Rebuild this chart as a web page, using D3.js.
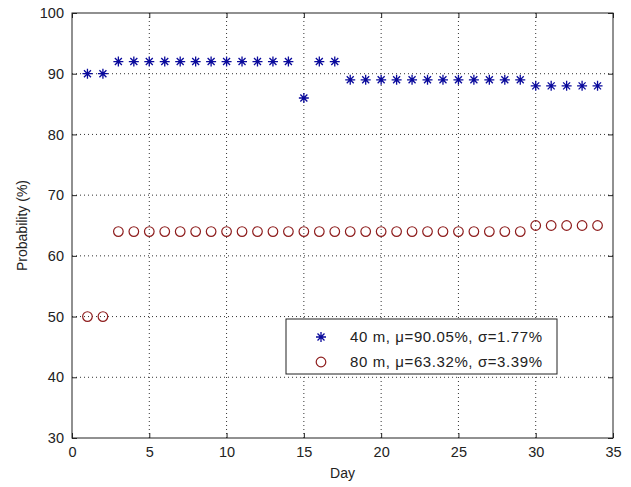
<!DOCTYPE html>
<html>
<head>
<meta charset="utf-8">
<script src="https://cdn.jsdelivr.net/npm/d3@7"></script>
<style>
  body { margin: 0; background: #fff; }
  svg text { font-family: "Liberation Sans", Arial, sans-serif; fill: #222; }
</style>
</head>
<body>
<div id="chart"></div>
<script>
const days = d3.range(1, 35)
const prob40 = [90, 90, 92, 92, 92, 92, 92, 92, 92, 92, 92, 92, 92, 92, 86, 92, 92,
    89, 89, 89, 89, 89, 89, 89, 89, 89, 89, 89, 89, 88, 88, 88, 88, 88]
const prob80 = [50, 50, 64, 64, 64, 64, 64, 64, 64, 64, 64, 64, 64, 64, 64, 64, 64,
    64, 64, 64, 64, 64, 64, 64, 64, 64, 64, 64, 64, 65, 65, 65, 65, 65]
const xTicks = [0, 5, 10, 15, 20, 25, 30, 35]
const yTicks = [30, 40, 50, 60, 70, 80, 90, 100]
const legendLabels = ["40 m, \u03bc=90.05%, \u03c3=1.77%", "80 m, \u03bc=63.32%, \u03c3=3.39%"]

const width = 631, height = 487
const margins = {top: 13, right: 18, bottom: 49, left: 72}

const svg = d3.select("#chart")
    .append("svg")
    .attr("width", width)
    .attr("height", height)

const xScale = d3.scaleLinear()
    .domain([0, 35])
    .range([margins.left, width - margins.right])

const yScale = d3.scaleLinear()
    .domain([30, 100])
    .range([height - margins.bottom, margins.top])

const x0 = margins.left, x1 = width - margins.right
const y0 = height - margins.bottom, y1 = margins.top

// dotted grid
svg.append("g")
    .selectAll("line")
    .data(xTicks.slice(1, -1))
    .join("line")
    .attr("x1", d => xScale(d)).attr("x2", d => xScale(d))
    .attr("y1", y0).attr("y2", y1)
    .attr("stroke", "#333").attr("stroke-width", 1)
    .attr("stroke-dasharray", "1,3")

svg.append("g")
    .selectAll("line")
    .data(yTicks.slice(1, -1))
    .join("line")
    .attr("y1", d => yScale(d)).attr("y2", d => yScale(d))
    .attr("x1", x0).attr("x2", x1)
    .attr("stroke", "#333").attr("stroke-width", 1)
    .attr("stroke-dasharray", "1,3")

// axes, ticks pointing inwards
const xAxis = d3.axisBottom(xScale).tickValues(xTicks).tickSizeInner(-5).tickSizeOuter(0).tickPadding(9)
const yAxis = d3.axisLeft(yScale).tickValues(yTicks).tickSizeInner(-5).tickSizeOuter(0).tickPadding(8)

svg.append("g")
    .attr("transform", `translate(0,${y0})`)
    .call(xAxis)
    .call(g => g.select(".domain").remove())
    .call(g => g.selectAll("text").attr("font-size", 14.5).attr("fill", "#222"))
    .call(g => g.selectAll("line").attr("stroke", "#222"))

svg.append("g")
    .attr("transform", `translate(${x0},0)`)
    .call(yAxis)
    .call(g => g.select(".domain").remove())
    .call(g => g.selectAll("text").attr("font-size", 14.5).attr("fill", "#222").attr("dy", "0.32em"))
    .call(g => g.selectAll("line").attr("stroke", "#222"))

// top and right ticks
svg.append("g")
    .attr("transform", `translate(0,${y1})`)
    .call(d3.axisTop(xScale).tickValues(xTicks).tickSizeInner(-5).tickSizeOuter(0).tickFormat(""))
    .call(g => g.select(".domain").remove())
    .call(g => g.selectAll("line").attr("stroke", "#222"))

svg.append("g")
    .attr("transform", `translate(${x1},0)`)
    .call(d3.axisRight(yScale).tickValues(yTicks).tickSizeInner(-5).tickSizeOuter(0).tickFormat(""))
    .call(g => g.select(".domain").remove())
    .call(g => g.selectAll("line").attr("stroke", "#222"))

// frame
svg.append("rect")
    .attr("x", x0).attr("y", y1)
    .attr("width", x1 - x0).attr("height", y0 - y1)
    .attr("fill", "none").attr("stroke", "#222").attr("stroke-width", 1)

// axis labels
svg.append("text")
    .attr("x", xScale(17.5)).attr("y", 478)
    .attr("text-anchor", "middle").attr("font-size", 14)
    .text("Day")

svg.append("text")
    .attr("transform", `translate(27,${yScale(65)}) rotate(-90)`)
    .attr("text-anchor", "middle").attr("font-size", 14)
    .text("Probability (%)")

// markers
const starPath = "M-5,0H5M0,-5V5M-3.5,-3.5L3.5,3.5M-3.5,3.5L3.5,-3.5"
const blue = "#0a0a9c", red = "#8e1d1d"

svg.append("g")
    .selectAll("path")
    .data(days)
    .join("path")
    .attr("transform", (d, i) => `translate(${xScale(d)},${yScale(prob40[i])})`)
    .attr("d", starPath)
    .attr("stroke", blue).attr("stroke-width", 1.3).attr("fill", "none")

svg.append("g")
    .selectAll("circle")
    .data(days)
    .join("circle")
    .attr("cx", d => xScale(d))
    .attr("cy", (d, i) => yScale(prob80[i]))
    .attr("r", 4.8)
    .attr("stroke", red).attr("stroke-width", 1.2).attr("fill", "none")

// legend
const legend = svg.append("g").attr("transform", "translate(286,319)")
legend.append("rect")
    .attr("width", 271).attr("height", 55)
    .attr("fill", "#fff").attr("stroke", "#222").attr("stroke-width", 1)

legend.append("path")
    .attr("transform", "translate(35,18)")
    .attr("d", starPath)
    .attr("stroke", blue).attr("stroke-width", 1.3).attr("fill", "none")

legend.append("circle")
    .attr("cx", 35).attr("cy", 43).attr("r", 4.8)
    .attr("stroke", red).attr("stroke-width", 1.2).attr("fill", "none")

legend.selectAll("text")
    .data(legendLabels)
    .join("text")
    .attr("x", 64)
    .attr("y", (d, i) => 18 + i * 25)
    .attr("dy", "0.35em")
    .attr("font-size", 15)
    .attr("letter-spacing", 0.6)
    .text(d => d)
</script>
</body>
</html>
